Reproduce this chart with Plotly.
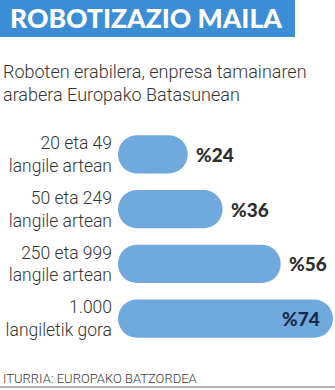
import plotly.graph_objects as go

# Company-size groups (two-line labels) and share of firms using robots
categories = [
    "20 eta 49<br>langile artean",
    "50 eta 249<br>langile artean",
    "250 eta 999<br>langile artean",
    "1.000<br>langiletik gora",
]
values = [24, 36, 56, 74]
value_labels = ["%24", "%36", "%56", "%74"]

title_text = "ROBOTIZAZIO MAILA"
subtitle_text = "Roboten erabilera, enpresa tamainaren<br>arabera Europako Batasunean"
source_text = "ITURRIA: EUROPAKO BATZORDEA"

W, H = 335, 390
L, R, T, B = 118, 0, 127, 44

BAR = "#6fa9dd"
HEAD = "#3b8ed6"
INK = "#2e2e2e"
NAVY = "#1b2a4a"
TEXT_FONT = "Roboto, Liberation Sans, sans-serif"


def fx(p):
    """Pixel x -> paper x."""
    return (p - L) / (W - L - R)


def fy(p):
    """Pixel y (from top) -> paper y."""
    return (H - B - p) / (H - T - B)


fig = go.Figure()

# Pill-shaped bars; an explicit base gives rounded corners on both ends
fig.add_bar(
    y=categories,
    x=values,
    base=[0] * len(values),
    orientation="h",
    marker=dict(color=BAR, line=dict(width=0)),
    hoverinfo="skip",
)

annotations = []
last = len(values) - 1
for i, (cat, v, lab) in enumerate(zip(categories, values, value_labels)):
    inside = i == last
    annotations.append(dict(
        x=v, y=cat, xref="x", yref="y",
        text=lab, showarrow=False,
        xanchor="right" if inside else "left",
        xshift=-11 if inside else 6,
        font=dict(family="Lato, sans-serif", size=19, weight=900,
                  color=NAVY if inside else INK),
    ))

# Header, subtitle and source
annotations.append(dict(
    x=fx(8), y=fy(18), xref="paper", yref="paper",
    text=title_text, showarrow=False, xanchor="left", yanchor="middle",
    font=dict(family="Lato, sans-serif", size=26.5, weight=900, color="white"),
))
annotations.append(dict(
    x=fx(1), y=fy(59), xref="paper", yref="paper",
    text=subtitle_text, showarrow=False, xanchor="left", yanchor="top",
    align="left",
    font=dict(family=TEXT_FONT, size=18, weight=300, color="#333333"),
))
annotations.append(dict(
    x=fx(1), y=fy(378), xref="paper", yref="paper",
    text=source_text, showarrow=False, xanchor="left", yanchor="middle",
    font=dict(family=TEXT_FONT, size=13, weight=300, color="#3a3a3a"),
))

shapes = [
    dict(type="rect", xref="paper", yref="paper",
         x0=fx(0), x1=fx(295), y0=fy(0), y1=fy(37),
         fillcolor=HEAD, line=dict(width=0), layer="below"),
    dict(type="line", xref="paper", yref="paper",
         x0=fx(0), x1=fx(W), y0=fy(387), y1=fy(387),
         line=dict(color="#9a9a9a", width=1.5)),
]

fig.update_layout(
    width=W, height=H,
    margin=dict(l=L, r=R, t=T, b=B, pad=0),
    paper_bgcolor="white", plot_bgcolor="white",
    barmode="overlay", bargap=0.3, barcornerradius=19,
    showlegend=False,
    annotations=annotations, shapes=shapes,
    xaxis=dict(range=[0, 74.7], visible=False, fixedrange=True),
    yaxis=dict(
        autorange="reversed", showgrid=False, zeroline=False, showline=False,
        ticks="", ticklabelstandoff=5, fixedrange=True,
        tickfont=dict(family=TEXT_FONT, size=17.5, weight=300, color="#333333"),
    ),
)

fig.write_html("out.html", config={"displayModeBar": False})
